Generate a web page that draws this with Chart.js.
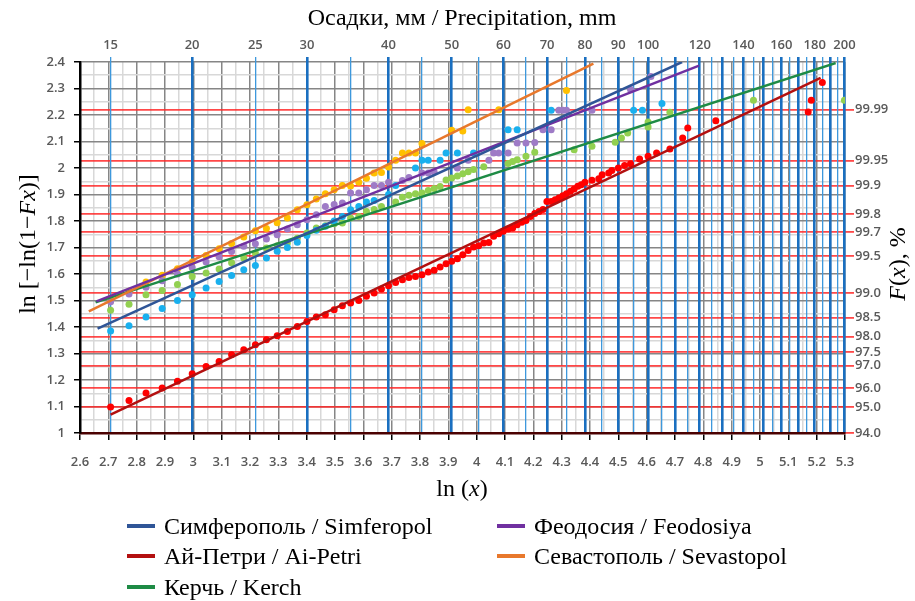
<!DOCTYPE html>
<html>
<head>
<meta charset="utf-8">
<script src="https://cdn.jsdelivr.net/npm/chart.js@4.4.1/dist/chart.umd.min.js"></script>
<style>
  html, body { margin: 0; padding: 0; background: #fff; }
  #wrap { position: relative; width: 915px; height: 601px; }
  #chart { position: absolute; left: 0; top: 0; }
  #legend { position: absolute; left: 0; top: 0; width: 915px; height: 601px; pointer-events: none;
            font-family: 'Liberation Serif', 'Times New Roman', serif; font-size: 24px; color: #000; }
  .legend-item { position: absolute; display: flex; align-items: center; white-space: nowrap; height: 28px; }
  .legend-swatch { width: 28px; height: 4px; margin-right: 9px; }
</style>
</head>
<body>
<div id="wrap">
  <canvas id="chart" width="915" height="601"></canvas>
  <div id="legend"></div>
</div>
<script>
// Axis ranges
const X_MIN = 2.6, X_MAX = 5.3;
const Y_MIN = 1, Y_MAX = 2.4;

// Top axis: precipitation, mm (blue lines every 5 mm, labels on some)
const mmLines = [15, 20, 25, 30, 35, 40, 45, 50, 55, 60, 65, 70, 75, 80, 85, 90, 95, 100,
  105, 110, 115, 120, 125, 130, 135, 140, 145, 150, 155, 160, 165, 170, 175, 180, 185, 190, 195, 200];
const mmLabels = [15, 20, 25, 30, 40, 50, 60, 70, 80, 90, 100, 120, 140, 160, 180, 200];

// Right axis: F(x), % (red lines)
const fTickValues = [1.0, 1.097, 1.169, 1.255, 1.305, 1.364, 1.435, 1.527, 1.667, 1.759, 1.827, 1.933, 2.028, 2.22];
const fTickLabels = ['94.0', '95.0', '96.0', '97.0', '97.5', '98.0', '98.5', '99.0', '99.5', '99.7', '99.8', '99.9', '99.95', '99.99'];

// Series names / colours
const seriesNames = ['Симферополь / Simferopol', 'Феодосия / Feodosiya', 'Ай-Петри / Ai-Petri',
  'Севастополь / Sevastopol', 'Керчь / Kerch'];
const lineColors = ['#2f5597', '#7030a0', '#b31010', '#e8782c', '#1e8b45'];
const pointColors = ['#19b0ee', '#9e7bc6', '#ff0000', '#ffc000', '#92d050'];

// Fitted lines (start, end) in [ln x, y]
const simferopolLine = [[2.662, 1.394], [4.725, 2.4]];
const feodosiyaLine = [[2.658, 1.497], [4.785, 2.386]];
const aiPetriLine = [[2.708, 1.069], [5.214, 2.34]];
const sevastopolLine = [[2.631, 1.459], [4.412, 2.394]];
const kerchLine = [[2.655, 1.493], [5.267, 2.396]];

// Observed points [ln x, y]
const simferopolPts = [[2.708,1.385],[2.773,1.405],[2.833,1.438],[2.890,1.47],[2.944,1.50],[2.996,1.522],
  [3.045,1.547],[3.091,1.572],[3.135,1.594],[3.178,1.616],[3.219,1.632],[3.258,1.66],[3.296,1.686],
  [3.332,1.70],[3.367,1.72],[3.401,1.745],[3.434,1.765],[3.466,1.78],[3.497,1.80],[3.526,1.817],
  [3.555,1.842],[3.584,1.855],[3.611,1.872],[3.638,1.877],[3.689,1.90],[3.714,1.934],[3.784,2.0],
  [3.807,2.029],[3.829,2.029],[3.871,2.029],[3.892,2.057],[3.932,2.057],[3.989,2.057],[4.111,2.144],
  [4.143,2.144],[4.263,2.218],[4.554,2.218],[4.585,2.218],[4.654,2.243]];
const feodosiyaPts = [[2.708,1.495],[2.773,1.525],[2.833,1.55],[2.890,1.575],[2.944,1.60],[2.996,1.625],
  [3.045,1.645],[3.091,1.665],[3.135,1.685],[3.178,1.705],[3.219,1.714],[3.258,1.732],[3.296,1.748],
  [3.332,1.77],[3.367,1.786],[3.401,1.805],[3.434,1.824],[3.466,1.855],[3.497,1.862],[3.526,1.868],
  [3.555,1.906],[3.584,1.906],[3.611,1.918],[3.638,1.934],[3.664,1.934],[3.689,1.946],[3.738,1.953],
  [3.761,1.964],[3.807,1.981],[3.829,1.981],[3.850,1.985],[3.932,2.0],[3.970,2.029],[4.043,2.029],
  [4.060,2.057],[4.078,2.057],[4.111,2.057],[4.143,2.094],[4.174,2.094],[4.205,2.096],[4.234,2.144],
  [4.263,2.144],[4.290,2.218],[4.304,2.218],[4.317,2.218],[4.407,2.218],[4.543,2.296],[4.615,2.345]];
const aiPetriPts = [[2.708,1.098],[2.773,1.123],[2.833,1.151],[2.890,1.17],[2.944,1.195],[2.996,1.224],
  [3.045,1.251],[3.091,1.27],[3.135,1.295],[3.178,1.314],[3.219,1.333],[3.258,1.352],[3.296,1.367],
  [3.332,1.383],[3.367,1.402],[3.401,1.421],[3.434,1.438],[3.466,1.446],[3.497,1.465],[3.526,1.48],
  [3.555,1.491],[3.584,1.50],[3.611,1.516],[3.638,1.528],[3.664,1.543],[3.689,1.556],[3.714,1.568],
  [3.738,1.578],[3.761,1.587],[3.784,1.591],[3.807,1.597],[3.829,1.608],[3.850,1.614],[3.871,1.626],
  [3.892,1.639],[3.912,1.648],[3.932,1.658],[3.951,1.673],[3.970,1.689],[3.989,1.702],[4.007,1.707],
  [4.025,1.717],[4.043,1.719],[4.060,1.742],[4.078,1.752],[4.094,1.761],[4.111,1.77],[4.127,1.774],
  [4.143,1.786],[4.159,1.795],[4.174,1.802],[4.190,1.817],[4.205,1.828],[4.220,1.836],[4.234,1.843],
  [4.248,1.874],[4.263,1.874],[4.277,1.88],[4.290,1.887],[4.304,1.895],[4.317,1.903],[4.331,1.912],
  [4.344,1.921],[4.357,1.931],[4.369,1.937],[4.382,1.946],[4.407,1.954],[4.431,1.959],[4.443,1.975],
  [4.466,1.981],[4.477,1.991],[4.500,2.0],[4.522,2.009],[4.543,2.016],[4.575,2.034],[4.605,2.044],
  [4.635,2.057],[4.682,2.072],[4.727,2.113],[4.745,2.151],[4.844,2.178],[5.170,2.211],[5.181,2.256],
  [5.220,2.323]];
const sevastopolPts = [[2.708,1.50],[2.773,1.535],[2.833,1.57],[2.890,1.595],[2.944,1.62],[2.996,1.645],
  [3.045,1.67],[3.091,1.695],[3.135,1.715],[3.178,1.74],[3.219,1.763],[3.258,1.772],[3.296,1.793],
  [3.332,1.811],[3.367,1.842],[3.401,1.861],[3.434,1.883],[3.466,1.903],[3.497,1.918],[3.526,1.934],
  [3.555,1.932],[3.584,1.946],[3.611,1.961],[3.638,1.981],[3.664,1.983],[3.689,2.004],[3.714,2.029],
  [3.738,2.057],[3.761,2.057],[3.784,2.057],[3.807,2.092],[3.912,2.142],[3.951,2.14],[3.970,2.22],
  [4.078,2.22],[4.317,2.292]];
const kerchPts = [[2.708,1.463],[2.773,1.486],[2.833,1.522],[2.890,1.538],[2.944,1.56],[2.996,1.591],
  [3.045,1.604],[3.091,1.619],[3.135,1.642],[3.178,1.66],[3.219,1.679],[3.258,1.698],[3.296,1.707],
  [3.332,1.717],[3.367,1.735],[3.401,1.755],[3.434,1.774],[3.466,1.782],[3.497,1.79],[3.526,1.792],
  [3.555,1.811],[3.584,1.817],[3.611,1.836],[3.638,1.843],[3.664,1.855],[3.714,1.872],[3.738,1.89],
  [3.761,1.897],[3.784,1.903],[3.807,1.906],[3.829,1.915],[3.850,1.923],[3.871,1.93],[3.892,1.955],
  [3.912,1.962],[3.932,1.97],[3.951,1.978],[3.970,1.986],[3.989,1.994],[4.025,2.005],[4.111,2.017],
  [4.127,2.025],[4.143,2.031],[4.174,2.044],[4.205,2.059],[4.344,2.069],[4.407,2.082],[4.489,2.097],
  [4.511,2.113],[4.533,2.132],[4.605,2.155],[4.605,2.174],[4.682,2.21],[4.977,2.256],[5.298,2.256]];

const fitLines = [simferopolLine, feodosiyaLine, aiPetriLine, sevastopolLine, kerchLine];
const observed = [simferopolPts, feodosiyaPts, aiPetriPts, sevastopolPts, kerchPts];

const TICK_FONT = { family: 'Open Sans', size: 13, weight: '600' };
const TICK_COLOR = '#595959';
const SERIF = "'Liberation Serif', 'Times New Roman', serif";

const toXY = arr => arr.map(([x, y]) => ({ x, y }));

/**
 * Grid positions every 0.05 between min and max.
 */
function gridTicks(min, max) {
  const out = [];
  const n = Math.round((max - min) / 0.05);
  for (let i = 0; i <= n; i++) out.push({ value: +(min + i * 0.05).toFixed(2) });
  return out;
}

function isMajor(v) {
  return Math.abs(v * 10 - Math.round(v * 10)) < 1e-6;
}

const grayGrid = {
  z: -3,
  color: c => isMajor(c.tick.value) ? '#868686' : '#d8d8d8',
  lineWidth: 1.5,
  tickColor: c => isMajor(c.tick.value) ? '#000' : 'rgba(0,0,0,0)',
  tickWidth: 1.5
};

/**
 * Draw a line of text made of parts with their own fonts, centred at (cx, cy).
 */
function drawRich(ctx, parts, cx, cy, angle) {
  ctx.save();
  ctx.translate(cx, cy);
  ctx.rotate(angle);
  ctx.textBaseline = 'middle';
  ctx.fillStyle = '#000';
  let total = 0;
  parts.forEach(([t, f]) => { ctx.font = f; total += ctx.measureText(t).width; });
  let x = -total / 2;
  parts.forEach(([t, f]) => {
    ctx.font = f;
    ctx.fillText(t, x, 0);
    x += ctx.measureText(t).width;
  });
  ctx.restore();
}

const axisTitles = {
  id: 'axisTitles',
  afterDraw(chart) {
    const ctx = chart.ctx;
    const n = `24px ${SERIF}`;
    const it = `italic 24px ${SERIF}`;
    drawRich(ctx, [['Осадки, мм / Precipitation, mm', n]], 462, 19, 0);
    drawRich(ctx, [['ln (', n], ['x', it], [')', n]], 462, 490, 0);
    drawRich(ctx, [['ln [−ln(1−', n], ['Fx', it], [')]', n]], 29, 244, -Math.PI / 2);
    drawRich(ctx, [['F', it], ['(', n], ['x', it], ['), %', n]], 899, 264, -Math.PI / 2);
  }
};

const datasets = [];
fitLines.forEach((line, i) => {
  datasets.push({
    label: seriesNames[i],
    data: toXY(line),
    showLine: true,
    borderColor: lineColors[i],
    borderWidth: 2.5,
    pointRadius: 0,
    fill: false
  });
});
observed.forEach((pts, i) => {
  datasets.push({
    label: seriesNames[i] + ' (data)',
    data: toXY(pts),
    showLine: false,
    backgroundColor: pointColors[i],
    borderWidth: 0,
    pointRadius: 3.5
  });
});

new Chart(document.getElementById('chart'), {
  type: 'scatter',
  data: { datasets },
  options: {
    responsive: false,
    animation: false,
    layout: { padding: 0 },
    plugins: { legend: { display: false }, tooltip: { enabled: false } },
    scales: {
      x: {
        type: 'linear', position: 'bottom', min: X_MIN, max: X_MAX,
        afterBuildTicks: s => { s.ticks = gridTicks(X_MIN, X_MAX); },
        afterFit: s => { s.height = 168; },
        grid: { ...grayGrid, tickLength: 7 },
        border: { color: '#4a0000', width: 2.5, z: 1 },
        ticks: {
          autoSkip: false, maxRotation: 0, minRotation: 0, padding: 14,
          color: TICK_COLOR, font: TICK_FONT,
          callback: v => isMajor(v) ? String(+v.toFixed(1)) : ''
        }
      },
      y: {
        type: 'linear', position: 'left', min: Y_MIN, max: Y_MAX,
        afterBuildTicks: s => { s.ticks = gridTicks(Y_MIN, Y_MAX); },
        afterFit: s => { s.width = 80; },
        grid: { ...grayGrid, tickLength: 6 },
        border: { color: '#000', width: 2.5, z: 1 },
        ticks: {
          autoSkip: false, padding: 9,
          color: TICK_COLOR, font: TICK_FONT,
          callback: v => isMajor(v) ? String(+v.toFixed(1)) : ''
        }
      },
      xTop: {
        type: 'linear', position: 'top', min: X_MIN, max: X_MAX,
        afterBuildTicks: s => { s.ticks = mmLines.map(m => ({ value: Math.log(m) })); },
        afterFit: s => { s.height = 62; },
        grid: {
          z: -1,
          color: c => mmLines[c.index] % 10 === 0 ? '#1a6fc0' : '#3d98dc',
          lineWidth: c => mmLines[c.index] % 10 === 0 ? 2.6 : 1.3,
          tickColor: c => mmLines[c.index] % 10 === 0 ? '#1a6fc0' : '#3d98dc',
          tickLength: 5
        },
        border: { display: false },
        ticks: {
          autoSkip: false, maxRotation: 0, minRotation: 0, padding: 4,
          color: TICK_COLOR, font: TICK_FONT,
          callback: (v, i) => mmLabels.includes(mmLines[i]) ? String(mmLines[i]) : ''
        }
      },
      yRight: {
        type: 'linear', position: 'right', min: Y_MIN, max: Y_MAX,
        afterBuildTicks: s => { s.ticks = fTickValues.map(v => ({ value: v })); },
        afterFit: s => { s.width = 70; },
        grid: {
          z: -2,
          color: 'rgba(255, 40, 40, 0.85)',
          lineWidth: 1.8,
          tickColor: 'rgba(255, 40, 40, 0.85)',
          tickLength: 9
        },
        border: { display: false },
        ticks: {
          autoSkip: false, padding: 1,
          color: TICK_COLOR, font: TICK_FONT,
          callback: (v, i) => fTickLabels[i]
        }
      }
    }
  },
  plugins: [axisTitles]
});

// HTML legend, two columns
const legend = document.getElementById('legend');
const colX = [127, 497];
const rowY = [512, 542, 573];
seriesNames.forEach((name, i) => {
  const item = document.createElement('div');
  item.className = 'legend-item';
  item.style.left = colX[i % 2] + 'px';
  item.style.top = rowY[Math.floor(i / 2)] + 'px';
  const sw = document.createElement('span');
  sw.className = 'legend-swatch';
  sw.style.background = lineColors[i];
  const txt = document.createElement('span');
  txt.textContent = name;
  item.appendChild(sw);
  item.appendChild(txt);
  legend.appendChild(item);
});
</script>
</body>
</html>
